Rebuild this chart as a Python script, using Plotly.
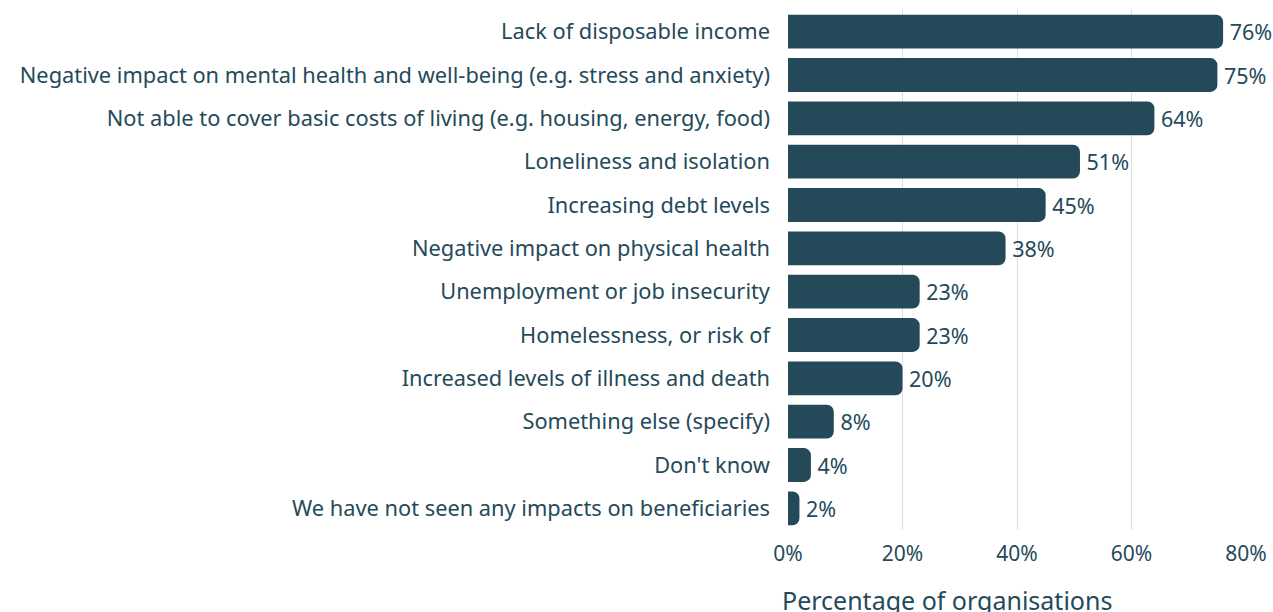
import plotly.graph_objects as go

categories = [
    "Lack of disposable income",
    "Negative impact on mental health and well-being (e.g. stress and anxiety)",
    "Not able to cover basic costs of living (e.g. housing, energy, food)",
    "Loneliness and isolation",
    "Increasing debt levels",
    "Negative impact on physical health",
    "Unemployment or job insecurity",
    "Homelessness, or risk of",
    "Increased levels of illness and death",
    "Something else (specify)",
    "Don't know",
    "We have not seen any impacts on beneficiaries",
]
values = [76, 75, 64, 51, 45, 38, 23, 23, 20, 8, 4, 2]
tick_vals = [0, 20, 40, 60, 80]
tick_text = ["0%", "20%", "40%", "60%", "80%"]

color = "#244a5a"
font_family = "Noto Sans, Open Sans, sans-serif"

fig = go.Figure(
    go.Bar(
        y=categories,
        x=values,
        orientation="h",
        marker=dict(color=color, cornerradius=7, line=dict(width=0)),
        width=0.78,
        text=[f"\u2009{v}%" for v in values],
        textposition="outside",
        textfont=dict(size=21.5, color=color, family=font_family),
        constraintext="none",
        cliponaxis=False,
        hoverinfo="skip",
    )
)

fig.update_layout(
    width=1273,
    height=612,
    margin=dict(l=788, r=27, t=10, b=82, autoexpand=False),
    paper_bgcolor="white",
    plot_bgcolor="white",
    font=dict(family=font_family, color=color, size=21.5),
    showlegend=False,
    xaxis=dict(
        range=[0, 80],
        tickvals=tick_vals,
        ticktext=tick_text,
        showgrid=True,
        gridcolor="#d9dee2",
        gridwidth=1,
        zeroline=False,
        showline=False,
        ticks="",
        tickfont=dict(size=21, color=color),
        ticklabelstandoff=9,
        automargin=False,
    ),
    yaxis=dict(
        autorange="reversed",
        showgrid=False,
        zeroline=False,
        showline=False,
        ticks="",
        tickfont=dict(size=21.8, color=color),
        ticklabelstandoff=17,
        automargin=False,
    ),
    annotations=[
        dict(
            text="Percentage of organisations",
            xref="paper",
            yref="paper",
            x=-0.0175,
            y=-0.135,
            xanchor="left",
            yanchor="middle",
            showarrow=False,
            font=dict(size=25, color=color, family=font_family),
        )
    ],
)

fig.write_html("out.html")
